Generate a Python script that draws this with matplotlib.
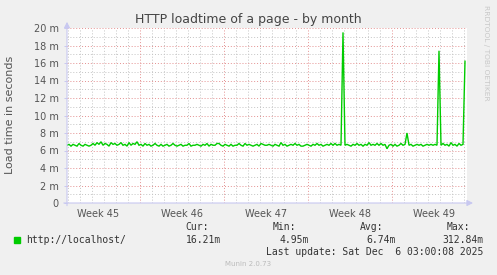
#!/usr/bin/env python3
# Munin style "HTTP loadtime of a page - by month" graph

import matplotlib
matplotlib.use("Agg")
import matplotlib.pyplot as plt

# load time samples (ms), one every 4 hours, starting at the left edge
load_ms = [
    6.6, 6.7, 6.5, 6.7, 6.6, 6.5, 6.8, 6.6, 6.5, 6.7, 6.6, 6.5, 6.6, 6.8, 6.6, 6.9, 6.7, 7.0, 6.6, 6.8,
    6.7, 6.5, 6.9, 6.7, 6.8, 6.6, 6.7, 6.9, 6.6, 6.7, 6.5, 6.9, 6.6, 6.8, 6.7, 7.0, 6.6, 6.7, 6.5, 6.8,
    6.6, 6.7, 6.5, 6.6, 6.8, 6.6, 6.5, 6.7, 6.5, 6.6, 6.7, 6.5, 6.6, 6.8, 6.6, 6.5, 6.6, 6.7, 6.5, 6.6,
    6.6, 6.8, 6.5, 6.6, 6.6, 6.7, 6.6, 6.5, 6.7, 6.6, 6.8, 6.5, 6.7, 6.6, 6.6, 6.8, 6.8, 6.6, 6.5, 6.7,
    6.6, 6.5, 6.7, 6.5, 6.6, 6.6, 6.8, 6.6, 6.5, 6.8, 6.6, 6.7, 6.6, 6.5, 6.6, 6.7, 6.5, 6.8, 6.7, 6.6,
    6.6, 6.7, 6.6, 6.5, 6.7, 6.6, 6.5, 6.9, 6.6, 6.7, 6.5, 6.6, 6.7, 6.6, 6.8, 6.6, 6.7, 6.5, 6.5, 6.6,
    6.7, 6.6, 6.5, 6.7, 6.6, 6.8, 6.6, 6.7, 6.5, 6.6, 6.7, 6.6, 6.8, 6.6, 6.8, 6.6, 6.7, 6.6, 19.5, 6.6,
    6.7, 6.6, 6.5, 6.7, 6.6, 6.8, 6.6, 6.7, 6.5, 6.7, 6.6, 6.9, 6.6, 6.7, 6.6, 6.8, 6.6, 6.8, 6.6, 6.7,
    6.2, 6.6, 6.7, 6.5, 6.7, 6.5, 6.6, 6.8, 6.6, 6.7, 8.0, 6.6, 6.7, 6.5, 6.6, 6.7, 6.6, 6.7, 6.5, 6.6,
    6.7, 6.6, 6.7, 6.6, 6.7, 6.6, 17.4, 6.6, 6.8, 6.6, 6.7, 6.5, 6.9, 6.6, 6.7, 6.5, 6.8, 6.6, 6.7, 16.2,
]
sample_hours = 4

week_labels = ["Week 45", "Week 46", "Week 47", "Week 48", "Week 49"]
week_starts = [6.083, 13.083, 20.083, 27.083]     # days from left edge
y_ticks = [0, 2, 4, 6, 8, 10, 12, 14, 16, 18, 20]
y_ticklabels = ["0", "2 m", "4 m", "6 m", "8 m", "10 m", "12 m", "14 m", "16 m", "18 m", "20 m"]

series_name = "http://localhost/"
stat_names = ["Cur:", "Min:", "Avg:", "Max:"]
stat_values = ["16.21m", "4.95m", "6.74m", "312.84m"]
last_update = "Last update: Sat Dec  6 03:00:08 2025"

## plot settings (pixels)
W, H = 497, 275
ax_left, ax_right = 67, 467
ax_top, ax_bottom = 28, 203
days_span = (ax_right - ax_left) / 12.0

bg = "#F0F0F0"
green = "#00CC00"
minor_c = "#C4C4C4"
major_c = "#E49090"
axis_c = "#C8C8F0"
txt_c = "#555555"

fig = plt.figure(figsize=(W / 100, H / 100), dpi=100, facecolor=bg)
ax = fig.add_axes([ax_left / W, 1 - ax_bottom / H,
                   (ax_right - ax_left) / W, (ax_bottom - ax_top) / H])
ax.set_facecolor("white")
ax.set_xlim(0, days_span)
ax.set_ylim(0, 20)
for s in ax.spines.values():
    s.set_visible(False)

dots = (0, (1, 2))
# minor grid: one line per day / per 1 m
d = week_starts[0] % 1.0
while d < days_span:
    if all(abs(d - w) > 0.01 for w in week_starts):
        ax.axvline(d, color=minor_c, lw=0.7, ls=dots, zorder=1)
    d += 1.0
for v in range(1, 20, 2):
    ax.axhline(v, color=minor_c, lw=0.7, ls=dots, zorder=1)
# major grid
for w in week_starts:
    ax.axvline(w, color=major_c, lw=0.7, ls=dots, zorder=2)
for v in y_ticks[1:]:
    ax.axhline(v, color=major_c, lw=0.7, ls=dots, zorder=2)

x = [i * sample_hours / 24.0 for i in range(len(load_ms))]
ax.plot(x, load_ms, color=green, lw=1.0, zorder=5, solid_joinstyle="miter")

# ticks
ax.set_yticks(y_ticks)
ax.set_yticklabels(y_ticklabels)
ax.tick_params(axis="y", length=2, width=0.7, color=axis_c, pad=4,
               labelsize=7, labelcolor=txt_c)
centers = [week_starts[0] - 3.5 + 7 * k for k in range(len(week_labels))]
ax.set_xticks(centers)
ax.set_xticklabels(week_labels)
ax.tick_params(axis="x", length=0, pad=4, labelsize=7, labelcolor=txt_c)

# axis lines with arrows
ax.annotate("", xy=(1.015, 0), xytext=(-0.008, 0), xycoords="axes fraction",
            arrowprops=dict(arrowstyle="-|>,head_length=0.35,head_width=0.18",
                            color=axis_c, lw=0.8, shrinkA=0, shrinkB=0), zorder=6)
ax.annotate("", xy=(0, 1.035), xytext=(0, -0.015), xycoords="axes fraction",
            arrowprops=dict(arrowstyle="-|>,head_length=0.35,head_width=0.18",
                            color=axis_c, lw=0.8, shrinkA=0, shrinkB=0), zorder=6)

# texts
def fx(px):
    return px / W

def fy(py):
    return 1 - py / H

fig.text(fx(248), fy(19), "HTTP loadtime of a page - by month", ha="center",
         va="center", fontsize=9, color="#444444")
fig.text(fx(10), fy(115), "Load time in seconds", ha="center", va="center",
         rotation=90, fontsize=8, color=txt_c)
fig.text(fx(486), fy(53), "RRDTOOL / TOBI OETIKER", ha="center", va="center",
         rotation=270, fontsize=5.4, color="#C8C8C8")

mono = "DejaVu Sans Mono"
fig.patches.append(plt.Rectangle((fx(14), fy(243)), 6 / W, 6 / H,
                                 transform=fig.transFigure, color=green))
fig.text(fx(26), fy(240), series_name, family=mono, fontsize=7,
         color="#333333", va="center")
head_x = [185, 273, 360, 447]
val_right = [221, 309, 396, 483]
for hx, name in zip(head_x, stat_names):
    fig.text(fx(hx), fy(227.5), name, family=mono, fontsize=7,
             color="#333333", va="center")
for vx, val in zip(val_right, stat_values):
    fig.text(fx(vx), fy(240), val, family=mono, fontsize=7,
             color="#333333", va="center", ha="right")
fig.text(fx(483), fy(252), last_update, family=mono, fontsize=7,
         color="#333333", va="center", ha="right")
fig.text(fx(248), fy(264), "Munin 2.0.73", ha="center", va="center",
         fontsize=5, color="#BBBBBB")

plt.savefig("out.png", dpi=100, facecolor=bg)
